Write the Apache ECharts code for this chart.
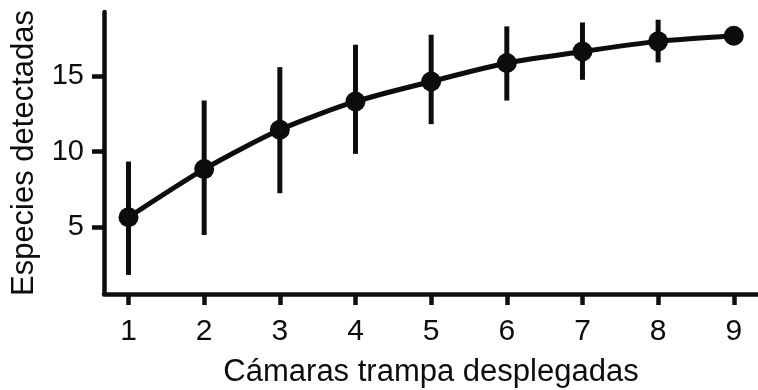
<!DOCTYPE html>
<html>
<head>
<meta charset="utf-8">
<script src="https://cdn.jsdelivr.net/npm/echarts@6/dist/echarts.min.js"></script>
<style>
  html, body { margin: 0; padding: 0; background: #fff; }
  #chart { width: 758px; height: 390px; }
</style>
</head>
<body>
<div id="chart"></div>
<script>
// Species accumulation: cameras deployed vs. species detected (mean ± spread)
const cameras = [1, 2, 3, 4, 5, 6, 7, 8, 9];
const speciesMean = [5.66, 8.84, 11.44, 13.31, 14.63, 15.85, 16.61, 17.28, 17.65];
const speciesLow  = [1.85, 4.49, 7.25, 9.85, 11.81, 13.37, 14.74, 15.89, 17.65];
const speciesHigh = [9.34, 13.37, 15.58, 17.06, 17.72, 18.27, 18.53, 18.71, 17.65];
const xTicks = [1, 2, 3, 4, 5, 6, 7, 8, 9];
const yTicks = [5, 10, 15];

const ink = '#0d0d0d';
const fontFamily = '"Liberation Sans", Arial, Helvetica, sans-serif';

const meanPoints = cameras.map((c, i) => [c, speciesMean[i]]);
const barData = cameras.map((c, i) => [c, speciesLow[i], speciesHigh[i]]);

const chart = echarts.init(document.getElementById('chart'), null, { renderer: 'canvas' });

chart.setOption({
  animation: false,
  backgroundColor: '#fff',
  grid: { left: 104, right: 0, top: 12, bottom: 96, containLabel: false, outerBoundsMode: 'none' },
  xAxis: {
    type: 'value',
    min: 0.676,
    max: 9.32,
    name: 'Cámaras trampa desplegadas',
    nameLocation: 'middle',
    nameGap: 63,
    nameTextStyle: { color: ink, fontSize: 31, fontFamily: fontFamily },
    splitLine: { show: false },
    axisLine: { show: true, lineStyle: { color: ink, width: 4.5 } },
    axisTick: { show: true, length: 11, customValues: xTicks, lineStyle: { color: ink, width: 4.5 } },
    axisLabel: {
      customValues: xTicks,
      color: ink, fontSize: 30, fontFamily: fontFamily, margin: 23,
      formatter: v => String(Math.round(v))
    }
  },
  yAxis: {
    type: 'value',
    min: 0.59,
    max: 19.22,
    name: 'Especies detectadas',
    nameLocation: 'middle',
    nameGap: 64,
    nameTextStyle: { color: ink, fontSize: 31, fontFamily: fontFamily },
    splitLine: { show: false },
    axisLine: { show: true, lineStyle: { color: ink, width: 4.5 } },
    axisTick: { show: true, length: 12, customValues: yTicks, lineStyle: { color: ink, width: 4.5 } },
    axisLabel: {
      customValues: yTicks,
      color: ink, fontSize: 29, fontFamily: fontFamily, margin: 20,
      formatter: v => String(Math.round(v))
    }
  },
  series: [
    {
      type: 'custom',
      name: 'rango',
      z: 3,
      data: barData,
      renderItem: function (params, api) {
        const x = api.value(0);
        const lo = api.coord([x, api.value(1)]);
        const hi = api.coord([x, api.value(2)]);
        return {
          type: 'line',
          shape: { x1: lo[0], y1: lo[1], x2: hi[0], y2: hi[1] },
          style: { stroke: ink, lineWidth: 5 }
        };
      }
    },
    {
      type: 'line',
      name: 'media',
      z: 4,
      data: meanPoints,
      smooth: 0.25,
      symbol: 'circle',
      symbolSize: 20,
      lineStyle: { color: ink, width: 5 },
      itemStyle: { color: ink }
    }
  ]
});
</script>
</body>
</html>
